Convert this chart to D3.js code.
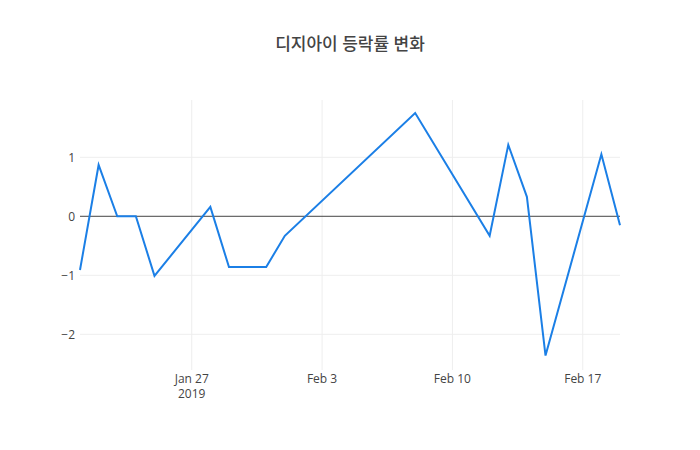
<!DOCTYPE html>
<html>
<head>
<meta charset="utf-8">
<script src="https://cdn.jsdelivr.net/npm/d3@7"></script>
<style>
  body { margin: 0; background: #fff; }
  text { font-family: "Open Sans", "Noto Sans CJK KR", sans-serif; }
</style>
</head>
<body>
<svg id="chart" width="700" height="450"></svg>
<script>
// daily change (%) of DGI stock
const dates = ["2019-01-21", "2019-01-22", "2019-01-23", "2019-01-24", "2019-01-25",
    "2019-01-28", "2019-01-29", "2019-01-30", "2019-01-31", "2019-02-01",
    "2019-02-08", "2019-02-12", "2019-02-13", "2019-02-14", "2019-02-15",
    "2019-02-18", "2019-02-19"];
const changes = [-0.91, 0.87, 0, 0, -1.01,
    0.16, -0.86, -0.86, -0.86, -0.33,
    1.75, -0.33, 1.21, 0.33, -2.36,
    1.05, -0.15];
const yTicks = [-2, -1, 0, 1];
const xTicks = ["2019-01-27", "2019-02-03", "2019-02-10", "2019-02-17"];
const titleText = "디지아이 등락률 변화";

const parse = d3.timeParse("%Y-%m-%d");
const data = dates.map((d, i) => ({date: parse(d), value: changes[i]}));

let xr1 = 80, xr2 = 620, yr1 = 100, yr2 = 370;

let svg = d3.select("#chart");

let xScale = d3.scaleTime()
    .domain(d3.extent(data, d => d.date))
    .range([xr1, xr2]);
let yScale = d3.scaleLinear()
    .domain([-2.605, 1.971])
    .range([yr2, yr1]);

// grid
svg.append("g").selectAll("line")
    .data(yTicks.filter(t => t !== 0))
    .enter().append("line")
    .attr("x1", xr1).attr("x2", xr2)
    .attr("y1", d => yScale(d)).attr("y2", d => yScale(d))
    .attr("stroke", "#eee").attr("stroke-width", 1);

svg.append("g").selectAll("line")
    .data(xTicks.map(parse))
    .enter().append("line")
    .attr("x1", d => xScale(d)).attr("x2", d => xScale(d))
    .attr("y1", yr1).attr("y2", yr2)
    .attr("stroke", "#eee").attr("stroke-width", 1);

// zero line
svg.append("line")
    .attr("x1", xr1).attr("x2", xr2)
    .attr("y1", yScale(0)).attr("y2", yScale(0))
    .attr("stroke", "#444").attr("stroke-width", 1);

// y axis labels
let yAxis = d3.axisLeft(yScale).tickValues(yTicks).tickSize(0).tickPadding(3)
    .tickFormat(d => d < 0 ? "\u2212" + Math.abs(d) : d);
let yG = svg.append("g")
    .attr("transform", "translate(" + (xr1 - 2) + ",0)")
    .call(yAxis);
yG.select(".domain").remove();
yG.selectAll("text").attr("font-size", 12).attr("fill", "#444")
    .style("font-family", "'Open Sans', sans-serif");

// x axis labels
let fmt = d3.timeFormat("%b %-d");
let xG = svg.append("g");
let xt = xG.selectAll("text")
    .data(xTicks.map(parse))
    .enter().append("text")
    .attr("x", d => xScale(d))
    .attr("y", yr2 + 4)
    .attr("text-anchor", "middle")
    .attr("font-size", 12)
    .attr("fill", "#444");
xt.append("tspan").attr("x", d => xScale(d)).attr("dy", "0.71em").text(fmt);
xt.filter((d, i) => i === 0).append("tspan")
    .attr("x", d => xScale(d)).attr("dy", "1.3em").text(d => d.getFullYear());

// line
let line = d3.line()
    .x(d => xScale(d.date))
    .y(d => yScale(d.value));

svg.append("path")
    .datum(data)
    .attr("d", line)
    .attr("fill", "none")
    .attr("stroke", "#1b7fe6")
    .attr("stroke-width", 2)
    .attr("stroke-linejoin", "miter");

// title
svg.append("text")
    .attr("x", 350)
    .attr("y", 50)
    .attr("text-anchor", "middle")
    .attr("font-size", 17)
    .attr("font-weight", 500)
    .attr("fill", "#444")
    .text(titleText);
</script>
</body>
</html>
